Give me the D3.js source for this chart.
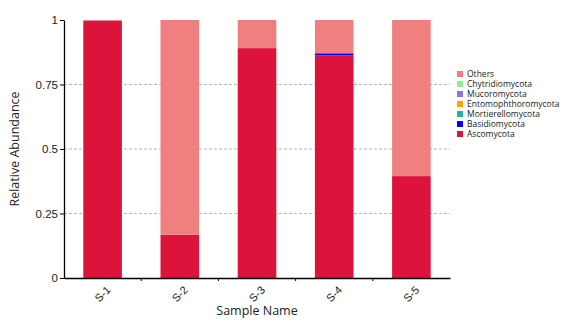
<!DOCTYPE html>
<html><head><meta charset="utf-8">
<script src="https://cdn.jsdelivr.net/npm/d3@7"></script>
<style>body{margin:0;background:#fff;} svg{display:block;font-family:"Open Sans",sans-serif;}</style>
</head><body><svg id="c" width="565" height="320"></svg>
<script>
const samples = ["S-1","S-2","S-3","S-4","S-5"];
const phyla = ["Ascomycota","Basidiomycota","Mortierellomycota","Entomophthoromycota","Mucoromycota","Chytridiomycota","Others"];
const colors = ["#DC143C","#0000FF","#20B2AA","#FFA500","#9370DB","#90EE90","#F08080"];
const Ascomycota = [0.998,0.168,0.891,0.863,0.395];
const Basidiomycota = [0.0,0.0,0.0,0.008,0.0];
const Mortierellomycota = [0,0,0,0,0];
const Entomophthoromycota = [0,0,0,0,0];
const Mucoromycota = [0,0,0,0,0];
const Chytridiomycota = [0,0,0,0,0];
const Others = [0.002,0.832,0.109,0.129,0.605];
const yTicks = [0,0.25,0.5,0.75,1];
const yTickLabels = ["0","0.25","0.5","0.75","1"];

const seriesVals = {Ascomycota,Basidiomycota,Mortierellomycota,Entomophthoromycota,Mucoromycota,Chytridiomycota,Others};
const rows = samples.map((s,i)=>{const r={sample:s}; phyla.forEach(p=>r[p]=seriesVals[p][i]); return r;});
const stack = d3.stack().keys(phyla)(rows);

const svg = d3.select("#c");
const m = {l:64, r:115, t:20, b:42};
const W = 565, H = 320;
const x = d3.scaleBand().domain(samples).range([m.l, W-m.r]).paddingInner(0.5).paddingOuter(0.25);
const y = d3.scaleLinear().domain([0,1]).range([H-m.b, m.t]);
const color = d3.scaleOrdinal().domain(phyla).range(colors);

// grid
svg.append("g").selectAll("line").data(yTicks.filter(t=>t>0&&t<1)).join("line")
  .attr("x1", m.l).attr("x2", W-m.r).attr("y1", d=>y(d)).attr("y2", d=>y(d))
  .attr("stroke","#888").attr("stroke-width",0.6).attr("stroke-dasharray","3,2");

// bars
svg.append("g").selectAll("g").data(stack).join("g").attr("fill", d=>color(d.key))
  .selectAll("rect").data(d=>d).join("rect")
  .attr("x", d=>x(d.data.sample)).attr("width", x.bandwidth())
  .attr("y", d=>y(d[1])).attr("height", d=>Math.max(0, y(d[0])-y(d[1])));

// y axis
const ya = svg.append("g").attr("transform",`translate(${m.l},0)`)
  .call(d3.axisLeft(y).tickValues(yTicks).tickFormat((d,i)=>yTickLabels[i]).tickSize(4).tickSizeOuter(0));
ya.select(".domain").attr("stroke","#000").attr("stroke-width",1.3);
ya.selectAll("text").attr("font-size",11.5).attr("fill","#222").attr("dx",1);
ya.selectAll(".tick line").attr("stroke","#000");

// x axis
const xa = svg.append("g").attr("transform",`translate(0,${H-m.b})`)
  .call(d3.axisBottom(x).tickSize(0).tickSizeOuter(0));
xa.select(".domain").attr("stroke","#000").attr("stroke-width",1.3);
xa.selectAll(".tick text").attr("font-size",11).attr("fill","#222")
  .attr("text-anchor","end").attr("y",0).attr("dy","0.35em").attr("transform","translate(6,10) rotate(-45)");
// separator ticks between bands
const bounds = samples.slice(1).map(s=>x(s) - x.step()*x.paddingInner()/2);
svg.append("g").selectAll("line").data(bounds).join("line")
  .attr("x1",d=>d).attr("x2",d=>d).attr("y1",H-m.b).attr("y2",H-m.b+3).attr("stroke","#000");

// titles
svg.append("text").attr("transform",`translate(19,${(m.t+H-m.b)/2}) rotate(-90)`)
  .attr("text-anchor","middle").attr("font-size",12.5).attr("fill","#222").text("Relative Abundance");
svg.append("text").attr("x",(m.l+W-m.r)/2).attr("y",315).attr("text-anchor","middle")
  .attr("font-size",12.5).attr("fill","#222").text("Sample Name");

// legend
const legOrder = phyla.slice().reverse();
const lg = svg.append("g").attr("transform","translate(457,71)");
const li = lg.selectAll("g").data(legOrder).join("g").attr("transform",(d,i)=>`translate(0,${i*10})`);
li.append("rect").attr("width",6).attr("height",6).attr("fill",d=>color(d));
li.append("text").attr("x",10).attr("y",6).attr("font-size",8.5).attr("fill","#222").text(d=>d);
</script></body></html>
